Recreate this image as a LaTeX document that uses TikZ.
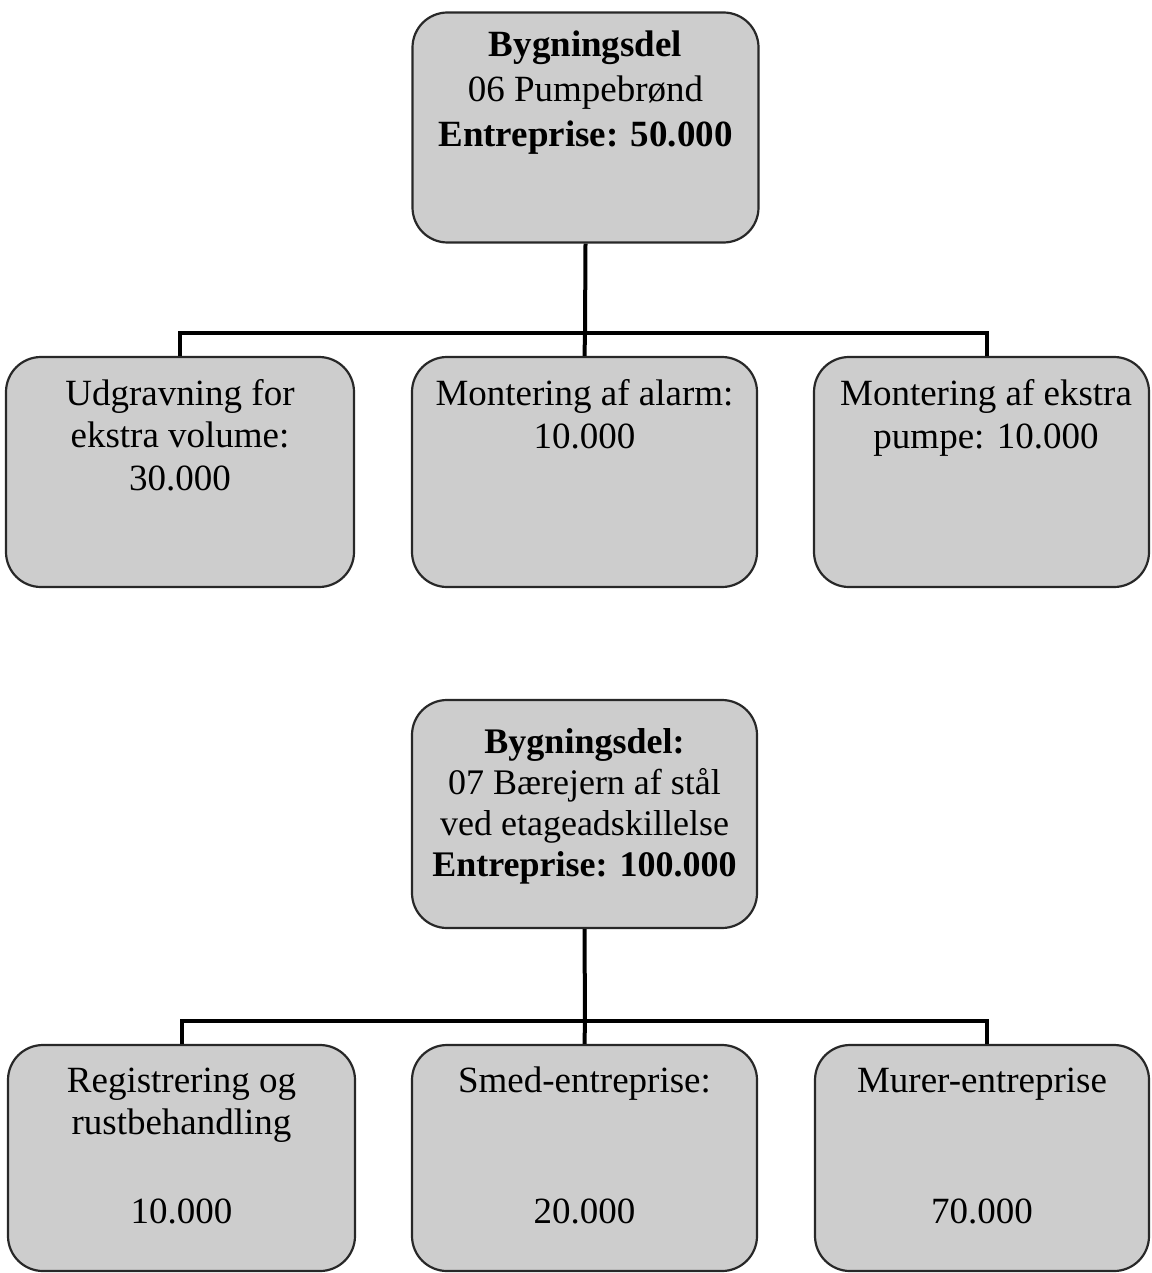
\documentclass[tikz,border=0pt]{standalone}
\usepackage{fontspec}
\setmainfont{Liberation Serif}
\definecolor{boxgray}{RGB}{205,205,205}
\definecolor{edgegray}{RGB}{40,40,40}
\begin{document}
\begin{tikzpicture}[x=1pt,y=-1pt,
  box/.style={draw=edgegray, line width=2.2pt, fill=boxgray, rounded corners=35pt, inner sep=0pt},
  txt/.style={align=center, inner sep=0pt, anchor=base, text=black, font=\fontsize{37}{42.5}\selectfont},
  ptxt/.style={txt, font=\fontsize{37}{45}\selectfont},
  ptxtb/.style={txt, font=\fontsize{36}{41}\selectfont},
  conn/.style={line width=4pt, black}]
\useasboundingbox (0,0) rectangle (1151,1273);
% ---------- first tree ----------
\node[box, minimum width=346pt, minimum height=230pt] (P1) at (585.5,127.5) {};
\node[box, minimum width=348pt, minimum height=230pt] (C1a) at (180,472) {};
\node[box, minimum width=345pt, minimum height=230pt] (C1b) at (584.5,472) {};
\node[box, minimum width=335pt, minimum height=230pt] (C1c) at (981.5,472) {};
\coordinate (B1) at (585,333);
\draw[conn] (P1.south) -- (B1);
\draw[conn] (C1a.north) |- (B1) -| ([xshift=5pt]C1c.north);
\draw[conn] (B1) -- (C1b.north);
\node[ptxt] (T1) at (585.5,147) {\textbf{Bygningsdel}\\06 Pumpebrønd\\\textbf{Entreprise: 50.000}};
\node[txt] (T1a) at (180,490) {Udgravning for\\ekstra volume:\\30.000};
\node[txt] (T1b) at (584.5,448) {Montering af alarm:\\10.000};
\node[txt] (T1c) at (986,448) {Montering af ekstra\\pumpe: 10.000};
% ---------- second tree ----------
\node[box, minimum width=345pt, minimum height=228pt] (P2) at (584.5,814) {};
\node[box, minimum width=347pt, minimum height=226pt] (C2a) at (181.5,1158) {};
\node[box, minimum width=345pt, minimum height=226pt] (C2b) at (584.5,1158) {};
\node[box, minimum width=334pt, minimum height=226pt] (C2c) at (982,1158) {};
\coordinate (B2) at (585,1021);
\draw[conn] (P2.south) -- (B2);
\draw[conn] (C2a.north) |- (B2) -| ([xshift=5pt]C2c.north);
\draw[conn] (B2) -- (C2b.north);
\node[ptxtb] (T2) at (584.5,876) {\textbf{Bygningsdel:}\\07 Bærejern af stål\\ved etageadskillelse\\\textbf{Entreprise: 100.000}};
\node[txt] (T2a) at (181.5,1223) {Registrering og\\rustbehandling\\[46pt]10.000};
\node[txt] (T2b) at (584.5,1223) {Smed-entreprise:\\[88pt]20.000};
\node[txt] (T2c) at (982,1223) {Murer-entreprise\\[88pt]70.000};
\end{tikzpicture}
\end{document}
